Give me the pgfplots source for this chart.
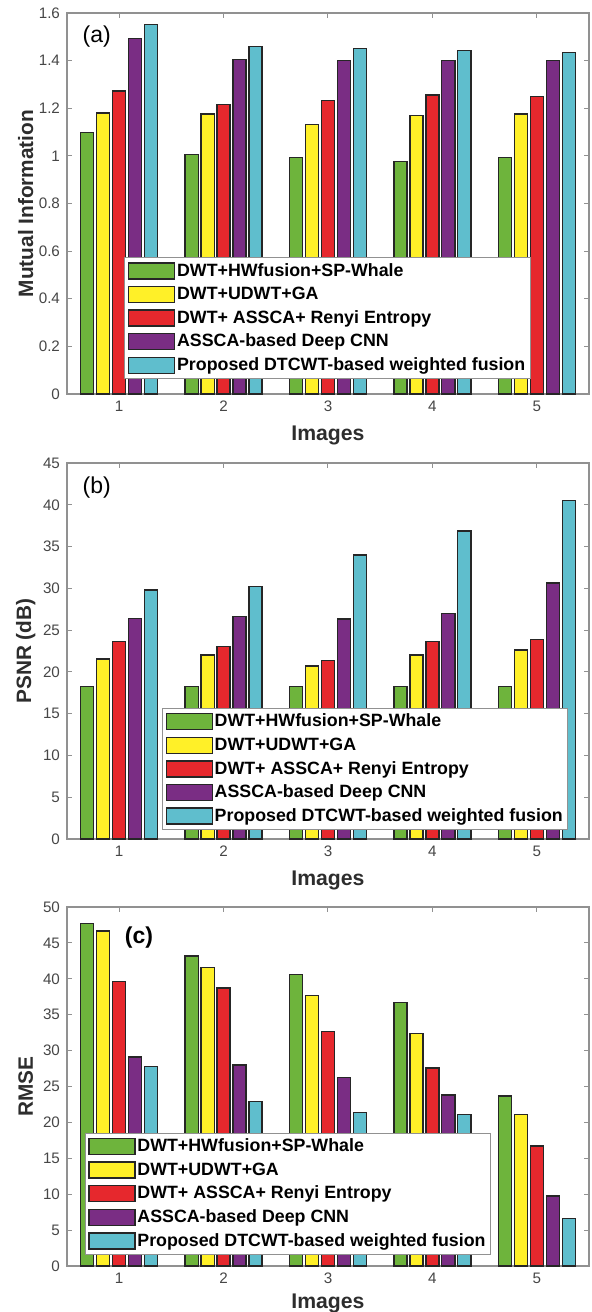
\documentclass[border=0pt]{standalone}
\usepackage{pgfplots}
\pgfplotsset{compat=1.18}
\usepackage{fontspec}
\setmainfont{Liberation Sans}
\definecolor{cG}{RGB}{110,180,60}
\definecolor{cY}{RGB}{255,240,40}
\definecolor{cR}{RGB}{230,40,45}
\definecolor{cP}{RGB}{122,45,132}
\definecolor{cC}{RGB}{95,190,205}
\definecolor{axgray}{RGB}{145,145,145}
\definecolor{tickgray}{RGB}{70,70,70}
\definecolor{labgray}{RGB}{45,45,45}
\pgfplotsset{
  mybase/.style={
    scale only axis, width=261pt, anchor=south west,
    xmin=0.5, xmax=5.5, ymin=0,
    xtick={1,2,3,4,5},
    ybar, bar width=0.125,
    axis line style={draw=axgray, line width=0.6pt},
    tick style={draw=axgray, line width=0.5pt},
    major tick length=2.5pt,
    tick align=inside,
    tick pos=both,
    ticklabel style={font=\fontsize{7.6}{9}\selectfont, text=tickgray},
    /pgf/number format/assume math mode=true,
    xlabel={Images},
    xlabel style={font=\bfseries\fontsize{10.6}{12}\selectfont, text=labgray, at={(axis description cs:0.5,0)}, anchor=center, yshift=-20.5pt},
    ylabel style={font=\bfseries\fontsize{10.4}{12}\selectfont, text=labgray, at={(axis description cs:-0.079,0.5)}, anchor=center},
    legend style={anchor=south west, draw=axgray, fill=white, line width=0.5pt,
      font=\bfseries\fontsize{8.9}{10.8}\selectfont, text=black,
      inner xsep=1.5pt, inner ysep=0.8pt, row sep=0.2pt,
      nodes={inner sep=0.9pt, text height=0.74em, text depth=0.24em}},
    legend cell align=left,
    legend image code/.code={\draw[##1, line width=0.7pt] (0pt,-3.9pt) rectangle (23pt,4.1pt);},
  },
  bG/.style={fill=cG, draw=black!85, line width=0.65pt, bar shift=-0.306},
  bY/.style={fill=cY, draw=black!85, line width=0.65pt, bar shift=-0.153},
  bR/.style={fill=cR, draw=black!85, line width=0.65pt, bar shift=0},
  bP/.style={fill=cP, draw=black!85, line width=0.65pt, bar shift=0.153},
  bC/.style={fill=cC, draw=black!85, line width=0.65pt, bar shift=0.306},
}
\begin{document}
\begin{tikzpicture}
% ---------- (a) ----------
\begin{axis}[mybase, at={(33.5pt,-197pt)}, height=190.5pt,
  ymax=1.6, ytick={0,0.2,0.4,0.6,0.8,1,1.2,1.4,1.6},
  ylabel={Mutual Information},
  legend style={at={(axis description cs:0.11,0.039)}}]
\addplot[bG] coordinates {(1,1.099) (2,1.005) (3,0.992) (4,0.977) (5,0.992)};
\addplot[bY] coordinates {(1,1.180) (2,1.176) (3,1.131) (4,1.169) (5,1.176)};
\addplot[bR] coordinates {(1,1.273) (2,1.216) (3,1.232) (4,1.256) (5,1.250)};
\addplot[bP] coordinates {(1,1.492) (2,1.404) (3,1.400) (4,1.400) (5,1.400)};
\addplot[bC] coordinates {(1,1.551) (2,1.459) (3,1.452) (4,1.442) (5,1.435)};
\legend{DWT+HWfusion+SP-Whale, DWT+UDWT+GA, DWT+ ASSCA+ Renyi Entropy, ASSCA-based Deep CNN, Proposed DTCWT-based weighted fusion}
\node[font=\fontsize{11.5}{13}\selectfont, text=black] at (axis description cs:0.057,0.937) {(a)};
\end{axis}
% ---------- (b) ----------
\begin{axis}[mybase, at={(33.5pt,-419.5pt)}, height=188pt,
  ymax=45, ytick={0,5,10,15,20,25,30,35,40,45},
  ylabel={PSNR (dB)},
  legend style={at={(axis description cs:0.182,0.024)}}]
\addplot[bG] coordinates {(1,18.27) (2,18.27) (3,18.27) (4,18.27) (5,18.27)};
\addplot[bY] coordinates {(1,21.54) (2,22.02) (3,20.70) (4,22.02) (5,22.62)};
\addplot[bR] coordinates {(1,23.65) (2,23.02) (3,21.38) (4,23.65) (5,23.85)};
\addplot[bP] coordinates {(1,26.40) (2,26.60) (3,26.33) (4,26.97) (5,30.63)};
\addplot[bC] coordinates {(1,29.80) (2,30.24) (3,33.98) (4,36.86) (5,40.49)};
\legend{DWT+HWfusion+SP-Whale, DWT+UDWT+GA, DWT+ ASSCA+ Renyi Entropy, ASSCA-based Deep CNN, Proposed DTCWT-based weighted fusion}
\node[font=\fontsize{11.5}{13}\selectfont, text=black] at (axis description cs:0.057,0.934) {(b)};
\end{axis}
% ---------- (c) ----------
\begin{axis}[mybase, at={(33.5pt,-633pt)}, height=179.5pt,
  ymax=50, ytick={0,5,10,15,20,25,30,35,40,45,50},
  ylabel={RMSE},
  xlabel style={yshift=2pt},
  legend style={at={(axis description cs:0.034,0.031)}}]
\addplot[bG] coordinates {(1,47.68) (2,43.18) (3,40.63) (4,36.69) (5,23.70)};
\addplot[bY] coordinates {(1,46.66) (2,41.56) (3,37.66) (4,32.40) (5,21.15)};
\addplot[bR] coordinates {(1,39.66) (2,38.73) (3,32.70) (4,27.60) (5,16.70)};
\addplot[bP] coordinates {(1,29.13) (2,28.00) (3,26.25) (4,23.80) (5,9.74)};
\addplot[bC] coordinates {(1,27.83) (2,22.96) (3,21.38) (4,21.15) (5,6.63)};
\legend{DWT+HWfusion+SP-Whale, DWT+UDWT+GA, DWT+ ASSCA+ Renyi Entropy, ASSCA-based Deep CNN, Proposed DTCWT-based weighted fusion}
\node[font=\bfseries\fontsize{11.5}{13}\selectfont, text=black] at (axis description cs:0.138,0.916) {(c)};
\end{axis}
\pgfresetboundingbox
\path (0pt,0pt) rectangle (296pt,-656pt);
\end{tikzpicture}
\end{document}
